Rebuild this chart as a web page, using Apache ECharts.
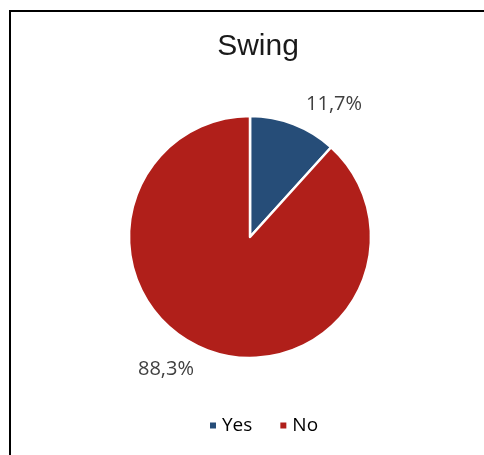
<!DOCTYPE html>
<html>
<head>
<meta charset="utf-8">
<script src="https://cdn.jsdelivr.net/npm/echarts@6/dist/echarts.min.js"></script>
<style>
html,body{margin:0;padding:0;background:#fff;}
#chart{position:absolute;left:0;top:0;width:484px;height:455px;}
#frame{position:absolute;left:9px;top:10px;width:480px;height:450px;border-top:2px solid #000;border-left:2px solid #000;pointer-events:none;}
</style>
</head>
<body>
<div id="chart"></div>
<div id="frame"></div>
<script>
const titleText = "Swing";
const categories = ["Yes", "No"];
const values = [11.7, 88.3];
const labels = ["11,7%", "88,3%"];
const colors = ["#264D78", "#B01F1A"];

const chart = echarts.init(document.getElementById('chart'), null, {renderer: 'canvas'});
chart.setOption({
  animation: false,
  backgroundColor: 'transparent',
  title: {
    text: titleText,
    left: 253,
    textAlign: 'center',
    top: 27,
    textStyle: {fontFamily: 'Liberation Sans', fontSize: 30, fontWeight: 'normal', color: '#1a1a1a'}
  },
  legend: {
    data: categories,
    bottom: 15,
    left: 203,
    icon: 'rect',
    itemWidth: 8,
    itemHeight: 8,
    itemGap: 26,
    textStyle: {fontFamily: 'Open Sans', fontSize: 19, color: '#000'}
  },
  series: [{
    type: 'pie',
    center: [250, 237],
    radius: 121,
    startAngle: 90,
    clockwise: true,
    data: categories.map((c, i) => ({name: c, value: values[i], itemStyle: {color: colors[i]}, label: {formatter: labels[i]}})),
    itemStyle: {borderColor: '#fff', borderWidth: 2.5},
    label: {
      show: true,
      position: 'outside',
      fontFamily: 'Open Sans',
      fontSize: 20,
      color: '#404040',
      distanceToLabelLine: 5
    },
    labelLine: {show: false, length: 21, length2: 0},
    emphasis: {disabled: true}
  }]
});
</script>
</body>
</html>
